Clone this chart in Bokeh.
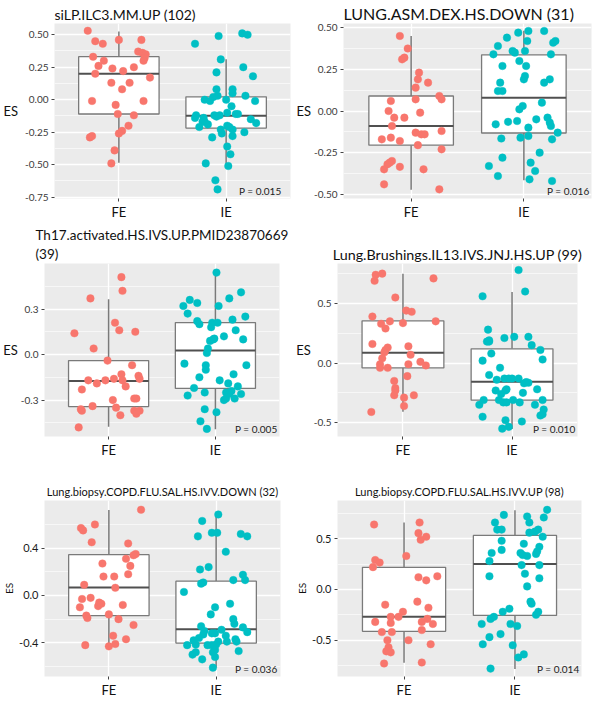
import math
from bokeh.plotting import figure
from bokeh.layouts import column, row
from bokeh.models import FixedTicker, Label, Range1d, PrintfTickFormatter
from bokeh.embed import file_html
from bokeh.resources import INLINE

GROUPS = ["FE", "IE"]
GROUP_X = [1, 2]
GROUP_COLORS = ["#F8766D", "#00BFC4"]
Y_LABEL = "ES"

# ---------------- Panel 1 ----------------
P1_TITLE = "siLP.ILC3.MM.UP (102)"
P1_PVAL = "P = 0.015"
P1_FE_JIT = [-0.29,-0.22,-0.15,0.00,0.21,-0.24,-0.14,-0.19,0.18,0.22,0.25,0.24,0.23,-0.06,0.04,0.14,-0.22,0.29,-0.07,0.10,0.03,-0.25,0.23,-0.03,-0.01,0.14,0.09,0.03,0.00,-0.27,-0.25,-0.04,-0.07]
P1_FE_ES = [0.53,0.45,0.43,0.46,0.46,0.33,0.30,0.26,0.37,0.36,0.35,0.32,0.30,0.24,0.22,0.25,0.20,0.17,0.13,0.13,0.08,-0.01,-0.01,-0.04,-0.11,-0.12,-0.20,-0.24,-0.26,-0.29,-0.28,-0.39,-0.49]
P1_IE_JIT = [-0.29,-0.07,0.15,0.20,-0.05,-0.09,0.16,0.25,-0.09,0.06,0.06,-0.12,-0.08,0.18,-0.20,-0.15,0.00,0.27,0.05,-0.28,-0.29,-0.21,-0.11,-0.09,-0.06,0.01,0.09,0.11,0.23,0.28,-0.22,-0.20,-0.17,-0.25,0.01,0.03,-0.05,0.06,-0.04,0.06,0.17,-0.13,0.01,0.04,-0.19,0.02,-0.10,-0.08]
P1_IE_ES = [0.43,0.49,0.51,0.50,0.31,0.21,0.25,0.18,0.08,0.08,0.05,0.02,0.03,0.03,0.00,-0.01,0.00,-0.01,-0.05,-0.12,-0.14,-0.14,-0.12,-0.13,-0.12,-0.10,-0.11,-0.11,-0.15,-0.18,-0.17,-0.17,-0.19,-0.21,-0.20,-0.21,-0.23,-0.23,-0.26,-0.28,-0.25,-0.29,-0.36,-0.42,-0.49,-0.51,-0.62,-0.69]
# box stats: lower whisker, Q1, median, Q3, upper whisker
P1_FE_BOX = [-0.485, -0.11, 0.20, 0.331, 0.525]
P1_IE_BOX = [-0.51, -0.218, -0.123, 0.022, 0.311]
P1_YTICKS = [-0.75, -0.5, -0.25, 0.0, 0.25, 0.5]
P1_YMINOR = [-0.625, -0.375, -0.125, 0.125, 0.375]
P1_YRANGE = [-0.76, 0.586]

# ---------------- Panel 2 ----------------
P2_TITLE = "LUNG.ASM.DEX.HS.DOWN (31)"
P2_PVAL = "P = 0.016"
P2_FE_JIT = [-0.10,-0.03,-0.08,-0.06,0.07,0.06,0.15,0.04,0.04,0.25,0.27,-0.18,-0.20,0.08,-0.15,-0.06,-0.17,-0.26,-0.18,-0.10,0.04,0.09,0.12,0.27,0.06,0.27,-0.17,-0.19,-0.21,-0.24,-0.10,0.11,-0.24,0.25]
P2_FE_ES = [0.45,0.375,0.31,0.32,0.23,0.19,0.17,0.14,0.07,0.09,0.07,0.06,0.00,-0.01,-0.04,-0.04,-0.09,-0.17,-0.16,-0.18,-0.13,-0.14,-0.14,-0.12,-0.205,-0.23,-0.30,-0.31,-0.32,-0.35,-0.335,-0.35,-0.44,-0.47]
P2_IE_JIT = [-0.15,-0.05,0.04,0.18,0.03,-0.23,-0.27,-0.10,-0.08,0.01,0.28,0.26,-0.04,-0.19,0.02,0.24,0.01,0.00,0.23,0.18,-0.21,-0.23,-0.19,-0.01,-0.04,0.16,-0.14,-0.06,-0.25,0.11,0.21,0.23,0.24,0.04,0.30,-0.20,-0.03,0.04,0.25,0.14,-0.19,-0.31,0.06,0.10,-0.23,0.05,0.25]
P2_IE_ES = [0.44,0.47,0.48,0.48,0.42,0.39,0.34,0.36,0.35,0.36,0.42,0.41,0.30,0.27,0.27,0.34,0.21,0.19,0.19,0.17,0.17,0.12,0.12,0.03,0.01,0.05,-0.065,-0.06,-0.08,-0.05,-0.04,-0.07,-0.09,-0.10,-0.13,-0.165,-0.16,-0.15,-0.17,-0.25,-0.28,-0.33,-0.31,-0.36,-0.39,-0.41,-0.42]
P2_FE_BOX = [-0.473, -0.205, -0.090, 0.090, 0.45]
P2_IE_BOX = [-0.416, -0.132, 0.080, 0.337, 0.481]
P2_YTICKS = [-0.5, -0.25, 0.0, 0.25, 0.5]
P2_YMINOR = [-0.375, -0.125, 0.125, 0.375]
P2_YRANGE = [-0.525, 0.525]

# ---------------- Panel 3 ----------------
P3_TITLE = "Th17.activated.HS.IVS.UP.PMID23870669\n(39)"
P3_PVAL = "P = 0.005"
P3_FE_JIT = [0.12,0.13,-0.17,-0.32,0.06,0.10,0.25,-0.14,-0.01,0.22,-0.19,-0.11,-0.03,0.05,0.12,0.13,0.16,0.28,0.29,-0.25,0.24,0.26,0.04,-0.15,0.07,-0.26,-0.25,0.24,0.26,0.29,0.11,-0.28]
P3_FE_ES = [0.51,0.42,0.37,0.14,0.21,0.16,0.15,0.04,-0.04,-0.07,-0.17,-0.19,-0.17,-0.16,-0.13,-0.17,-0.21,-0.14,-0.16,-0.23,-0.29,-0.29,-0.30,-0.34,-0.35,-0.36,-0.37,-0.37,-0.39,-0.37,-0.40,-0.48]
P3_IE_JIT = [0.01,0.24,0.13,-0.24,-0.17,-0.30,-0.26,0.03,0.28,-0.17,-0.15,-0.03,0.02,0.16,-0.04,0.19,0.08,0.26,-0.05,-0.02,-0.01,-0.07,-0.08,-0.29,-0.09,0.29,-0.09,-0.15,0.17,0.04,0.12,-0.20,0.21,0.15,0.10,0.13,-0.26,-0.10,0.24,0.10,0.08,0.18,-0.10,0.01,-0.14,-0.08]
P3_IE_ES = [0.54,0.41,0.37,0.36,0.34,0.32,0.27,0.32,0.25,0.22,0.20,0.21,0.21,0.23,0.18,0.16,0.12,0.10,0.09,0.10,0.105,0.04,0.01,-0.06,-0.07,-0.07,-0.10,-0.15,-0.13,-0.17,-0.19,-0.22,-0.21,-0.24,-0.25,-0.26,-0.27,-0.25,-0.26,-0.29,-0.30,-0.29,-0.36,-0.38,-0.44,-0.49]
P3_FE_BOX = [-0.476, -0.343, -0.175, -0.040, 0.364]
P3_IE_BOX = [-0.493, -0.223, 0.027, 0.211, 0.539]
P3_YTICKS = [-0.3, 0.0, 0.3]
P3_YMINOR = [-0.45, -0.15, 0.15, 0.45]
P3_YRANGE = [-0.54, 0.60]

# ---------------- Panel 4 ----------------
P4_TITLE = "Lung.Brushings.IL13.IVS.JNJ.HS.UP (99)"
P4_PVAL = "P = 0.010"
P4_FE_JIT = [-0.25,-0.19,-0.26,0.28,-0.07,-0.28,-0.20,-0.12,0.00,0.03,0.08,0.30,-0.16,-0.28,-0.14,-0.16,-0.17,-0.19,0.05,0.07,-0.21,-0.21,-0.14,0.05,0.16,0.21,-0.08,0.04,-0.07,-0.07,-0.08,0.01,0.10,0.01,-0.29]
P4_FE_ES = [0.74,0.75,0.69,0.71,0.55,0.39,0.33,0.35,0.335,0.44,0.43,0.35,0.29,0.16,0.13,0.11,0.09,0.04,0.14,0.07,-0.01,-0.04,-0.04,-0.01,0.01,-0.02,-0.15,-0.11,-0.21,-0.23,-0.27,-0.29,-0.27,-0.36,-0.41]
P4_IE_JIT = [0.06,0.12,-0.27,-0.22,-0.21,-0.23,-0.21,-0.19,-0.07,0.02,0.15,0.18,0.26,0.28,-0.27,-0.11,-0.21,-0.14,-0.07,-0.03,0.00,0.06,0.11,0.13,0.15,0.23,0.28,0.29,0.28,0.26,0.21,-0.15,-0.10,-0.06,-0.05,-0.12,-0.08,-0.05,0.01,0.07,0.10,-0.26,-0.30,-0.27,-0.06,-0.09,-0.03,0.09]
P4_IE_ES = [0.78,0.60,0.56,0.28,0.19,0.18,0.18,0.08,0.21,0.22,0.22,0.15,0.11,0.03,0.02,-0.04,-0.10,-0.14,-0.13,-0.13,-0.13,-0.13,-0.17,-0.16,-0.165,-0.22,-0.31,-0.39,-0.43,-0.44,-0.35,-0.23,-0.26,-0.23,-0.22,-0.31,-0.33,-0.33,-0.31,-0.33,-0.25,-0.31,-0.35,-0.45,-0.48,-0.55,-0.535,-0.49]
P4_FE_BOX = [-0.408, -0.041, 0.086, 0.354, 0.749]
P4_IE_BOX = [-0.554, -0.311, -0.157, 0.119, 0.595]
P4_YTICKS = [-0.5, 0.0, 0.5]
P4_YMINOR = [-0.25, 0.25, 0.75]
P4_YRANGE = [-0.616, 0.835]

# ---------------- Panel 5 ----------------
P5_TITLE = "Lung.biopsy.COPD.FLU.SAL.HS.IVV.DOWN (32)"
P5_PVAL = "P = 0.036"
P5_FE_JIT = [0.30,-0.26,-0.24,-0.13,-0.16,0.18,0.25,0.23,0.16,-0.06,0.20,-0.05,0.05,0.18,-0.23,0.06,-0.25,-0.17,-0.27,-0.10,-0.09,-0.07,0.13,-0.21,-0.20,0.00,0.09,0.23,0.04,0.16,-0.22,0.00,0.06]
P5_FE_ES = [0.725,0.57,0.55,0.60,0.45,0.44,0.35,0.34,0.31,0.27,0.25,0.16,0.16,0.18,0.09,0.065,-0.03,-0.02,-0.10,-0.09,-0.06,-0.07,-0.08,-0.17,-0.19,-0.16,-0.20,-0.25,-0.34,-0.37,-0.42,-0.43,-0.41]
P5_IE_JIT = [0.02,-0.13,-0.17,-0.04,0.01,0.23,0.29,0.09,-0.15,-0.07,-0.14,-0.12,0.16,0.25,0.27,-0.30,-0.01,0.13,-0.05,0.16,0.17,-0.14,0.25,0.29,-0.27,-0.19,-0.21,-0.16,-0.12,-0.11,-0.04,-0.01,0.05,0.09,0.10,0.18,0.19,0.21,-0.04,0.00,0.02,-0.01,-0.03,-0.22,-0.19,-0.13,-0.01,-0.03,-0.08]
P5_IE_ES = [0.685,0.63,0.50,0.53,0.53,0.52,0.50,0.37,0.22,0.24,0.10,0.11,0.13,0.175,0.13,0.03,-0.10,-0.07,-0.16,-0.20,-0.24,-0.26,-0.27,-0.31,-0.42,-0.415,-0.38,-0.36,-0.33,-0.30,-0.32,-0.32,-0.29,-0.34,-0.39,-0.37,-0.39,-0.47,-0.42,-0.415,-0.39,-0.46,-0.48,-0.50,-0.48,-0.54,-0.52,-0.61,-0.42]
P5_FE_BOX = [-0.420, -0.170, 0.067, 0.345, 0.722]
P5_IE_BOX = [-0.61, -0.402, -0.286, 0.121, 0.685]
P5_YTICKS = [-0.4, 0.0, 0.4]
P5_YMINOR = [-0.6, -0.2, 0.2, 0.6]
P5_YRANGE = [-0.685, 0.803]

# ---------------- Panel 6 ----------------
P6_TITLE = "Lung.biopsy.COPD.FLU.SAL.HS.IVV.UP (98)"
P6_PVAL = "P = 0.014"
P6_FE_JIT = [-0.27,0.14,0.13,0.20,0.15,-0.26,-0.22,-0.28,0.02,0.13,0.20,0.30,-0.17,0.12,0.22,-0.01,-0.12,-0.05,-0.26,-0.12,0.16,0.21,0.26,-0.20,-0.11,0.16,0.04,-0.15,0.24,-0.14,-0.16,-0.12,0.16,-0.18]
P6_FE_ES = [0.64,0.66,0.555,0.52,0.49,0.29,0.265,0.22,0.33,0.12,0.09,0.13,-0.15,-0.12,-0.18,-0.22,-0.27,-0.27,-0.32,-0.33,-0.32,-0.29,-0.34,-0.42,-0.42,-0.40,-0.50,-0.50,-0.54,-0.57,-0.61,-0.62,-0.72,-0.73]
P6_IE_JIT = [-0.10,-0.18,-0.16,-0.12,0.11,0.13,0.29,0.26,0.21,0.18,0.13,0.25,-0.12,0.08,-0.12,-0.21,-0.23,0.05,0.07,0.11,0.22,0.20,0.19,0.06,0.09,0.22,0.22,-0.23,0.11,0.14,0.15,0.21,0.19,-0.05,-0.11,-0.19,-0.22,-0.30,-0.04,0.02,-0.13,-0.23,-0.29,-0.02,0.03,0.08,-0.22]
P6_IE_ES = [0.735,0.66,0.59,0.59,0.72,0.66,0.785,0.71,0.59,0.57,0.56,0.52,0.48,0.45,0.39,0.36,0.28,0.36,0.34,0.33,0.42,0.375,0.35,0.24,0.155,0.24,0.11,0.13,0.03,-0.12,-0.14,-0.22,-0.25,-0.19,-0.22,-0.27,-0.29,-0.34,-0.34,-0.36,-0.44,-0.47,-0.54,-0.55,-0.67,-0.64,-0.78]
P6_FE_BOX = [-0.722, -0.413, -0.268, 0.218, 0.659]
P6_IE_BOX = [-0.785, -0.256, 0.252, 0.533, 0.782]
P6_YTICKS = [-0.5, 0.0, 0.5]
P6_YMINOR = [-0.75, -0.25, 0.25, 0.75]
P6_YRANGE = [-0.858, 0.877]

FONT = "Lato"
BOX_HALF = 0.375


def make_panel(title, pval, pts, boxes, yticks, yminor, yfmt, yrange, lay):
    p = figure(width=lay["w"], height=lay["h"],
               x_range=Range1d(0.4, 2.6), y_range=Range1d(yrange[0], yrange[1]),
               output_backend="svg", toolbar_location=None,
               min_border_left=lay["bl"], min_border_right=lay["br"],
               min_border_top=lay["bt"], min_border_bottom=lay["bb"])
    p.background_fill_color = "#EBEBEB"
    p.border_fill_color = "white"
    p.outline_line_color = None

    p.title.text = title
    p.title.text_font = FONT
    p.title.text_font_size = lay["tfs"]
    p.title.text_font_style = "normal"
    p.title.text_color = "#111111"
    p.title.align = lay["talign"]
    p.title.offset = lay["toff"]
    p.title.standoff = lay["tso"]
    p.title.text_line_height = 1.2

    xt = FixedTicker(ticks=GROUP_X)
    p.xaxis.ticker = xt
    p.xgrid.ticker = xt
    p.xgrid.grid_line_color = "white"
    p.xgrid.grid_line_width = 1.3
    yt = FixedTicker(ticks=yticks, minor_ticks=yminor)
    p.yaxis.ticker = yt
    p.ygrid.ticker = yt
    p.ygrid.grid_line_color = "white"
    p.ygrid.grid_line_width = 1.3
    p.ygrid.minor_grid_line_color = "white"
    p.ygrid.minor_grid_line_width = 0.6

    for ax in (p.xaxis[0], p.yaxis[0]):
        ax.axis_line_color = None
        ax.major_tick_in = 0
        ax.major_tick_out = 3
        ax.major_tick_line_color = "#444444"
        ax.minor_tick_line_color = None
    p.xaxis.major_label_overrides = {x: g for x, g in zip(GROUP_X, GROUPS)}
    p.xaxis.major_label_text_font = FONT
    p.xaxis.major_label_text_font_size = lay["xfs"]
    p.xaxis.major_label_text_color = "#111111"
    p.xaxis.major_label_standoff = 2
    p.yaxis.formatter = PrintfTickFormatter(format=yfmt)
    p.yaxis.major_label_text_font = FONT
    p.yaxis.major_label_text_font_size = lay["yfs"]
    p.yaxis.major_label_text_color = lay["ycol"]
    p.yaxis.major_label_standoff = 2

    yax = p.yaxis[0]
    yax.axis_label = Y_LABEL
    yax.axis_label_text_font = FONT
    yax.axis_label_text_font_size = lay["esfs"]
    yax.axis_label_text_font_style = "normal"
    yax.axis_label_text_color = "#111111"
    yax.axis_label_standoff = lay["es_so"]
    if lay["es_horiz"]:
        yax.axis_label_orientation = "horizontal"

    # boxes
    for gx, box in zip(GROUP_X, boxes):
        lo, q1, med, q3, hi = box
        p.segment(x0=[gx, gx], y0=[q3, q1], x1=[gx, gx], y1=[hi, lo],
                  line_color="#7A7A7A", line_width=1.5)
        p.quad(left=[gx - BOX_HALF], right=[gx + BOX_HALF], bottom=[q1], top=[q3],
               fill_color="white", line_color="#7A7A7A", line_width=1.3)
        p.segment(x0=[gx - BOX_HALF], x1=[gx + BOX_HALF], y0=[med], y1=[med],
                  line_color="#505050", line_width=2)
    # points
    for gx, col, (jit, es) in zip(GROUP_X, GROUP_COLORS, pts):
        n = min(len(jit), len(es))
        p.scatter(x=[gx + j for j in jit[:n]], y=es[:n], size=7.6,
                  fill_color=col, line_color=col, line_width=0.4)

    p.add_layout(Label(x=2.6, y=yrange[0], x_offset=-lay["p_dx"], y_offset=2, text=pval,
                       text_align="right", text_baseline="bottom", text_font=FONT,
                       text_font_size="10px", text_color="#222222"))
    return p


ROW1 = dict(h=224, tso=2, xfs="13px", yfs="10px", ycol="#3A3A3A", esfs="13px", es_horiz=True)
ROW2 = dict(h=236, tso=2, xfs="13px", yfs="10px", ycol="#3A3A3A", esfs="13px", es_horiz=True)
ROW3 = dict(h=240, tso=6, xfs="13px", yfs="11px", ycol="#1A1A1A", esfs="10px", es_horiz=False, tfs="11px")

L1 = dict(ROW1, w=293, bl=44, br=3, bt=20, bb=26, tfs="14px", talign="left", toff=0, es_so=4, p_dx=9)
L2 = dict(ROW1, w=301, bl=49, br=3, bt=22, bb=25, tfs="16px", talign="left", toff=0, es_so=0, p_dx=2)
L3 = dict(ROW2, w=293, bl=36, br=14, bt=38, bb=16, tfs="13.5px", talign="left", toff=-9, es_so=0, p_dx=2)
L4 = dict(ROW2, w=301, bl=36, br=17, bt=39, bb=16, tfs="14.3px", talign="center", toff=0, es_so=0, p_dx=2)
L5 = dict(ROW3, w=293, bl=36, br=13, bt=40, bb=20, talign="center", toff=0, es_so=1, p_dx=3)
L6 = dict(ROW3, w=301, bl=36, br=13, bt=40, bb=20, talign="center", toff=0, es_so=1, p_dx=2)

p1 = make_panel(P1_TITLE, P1_PVAL, [(P1_FE_JIT, P1_FE_ES), (P1_IE_JIT, P1_IE_ES)], [P1_FE_BOX, P1_IE_BOX], P1_YTICKS, P1_YMINOR, "%.2f", P1_YRANGE, L1)
p2 = make_panel(P2_TITLE, P2_PVAL, [(P2_FE_JIT, P2_FE_ES), (P2_IE_JIT, P2_IE_ES)], [P2_FE_BOX, P2_IE_BOX], P2_YTICKS, P2_YMINOR, "%.2f", P2_YRANGE, L2)
p3 = make_panel(P3_TITLE, P3_PVAL, [(P3_FE_JIT, P3_FE_ES), (P3_IE_JIT, P3_IE_ES)], [P3_FE_BOX, P3_IE_BOX], P3_YTICKS, P3_YMINOR, "%.1f", P3_YRANGE, L3)
p4 = make_panel(P4_TITLE, P4_PVAL, [(P4_FE_JIT, P4_FE_ES), (P4_IE_JIT, P4_IE_ES)], [P4_FE_BOX, P4_IE_BOX], P4_YTICKS, P4_YMINOR, "%.1f", P4_YRANGE, L4)
p5 = make_panel(P5_TITLE, P5_PVAL, [(P5_FE_JIT, P5_FE_ES), (P5_IE_JIT, P5_IE_ES)], [P5_FE_BOX, P5_IE_BOX], P5_YTICKS, P5_YMINOR, "%.1f", P5_YRANGE, L5)
p6 = make_panel(P6_TITLE, P6_PVAL, [(P6_FE_JIT, P6_FE_ES), (P6_IE_JIT, P6_IE_ES)], [P6_FE_BOX, P6_IE_BOX], P6_YTICKS, P6_YMINOR, "%.1f", P6_YRANGE, L6)

layout = column(row(p1, p2), row(p3, p4), row(p5, p6))

with open("out.html", "w") as f:
    f.write(file_html(layout, INLINE))
